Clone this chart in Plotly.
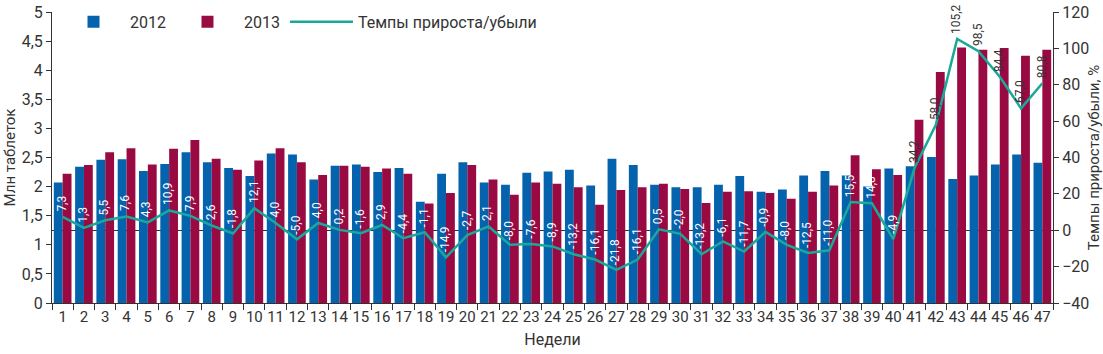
import plotly.graph_objects as go

weeks = [str(i) for i in range(1, 48)]
sales_2012 = [2.07, 2.34, 2.46, 2.47, 2.27, 2.39, 2.59, 2.42, 2.32, 2.18,
              2.57, 2.55, 2.12, 2.36, 2.38, 2.25, 2.32, 1.74, 2.22, 2.42,
              2.07, 2.03, 2.24, 2.26, 2.29, 2.02, 2.48, 2.37, 2.03, 1.99,
              1.99, 2.03, 2.18, 1.91, 1.95, 2.19, 2.27, 2.19, 2.00, 2.31,
              2.35, 2.51, 2.13, 2.19, 2.38, 2.55, 2.41]
sales_2013 = [2.22, 2.37, 2.59, 2.66, 2.38, 2.65, 2.80, 2.48, 2.29, 2.45,
              2.66, 2.42, 2.20, 2.36, 2.34, 2.31, 2.22, 1.71, 1.89, 2.37,
              2.12, 1.86, 2.07, 2.05, 1.99, 1.69, 1.94, 1.99, 2.05, 1.96,
              1.72, 1.91, 1.92, 1.89, 1.79, 1.91, 2.02, 2.54, 2.30, 2.20,
              3.15, 3.97, 4.39, 4.35, 4.38, 4.25, 4.35]
growth = [7.3, 1.3, 5.5, 7.6, 4.3, 10.9, 7.9, 2.6, -1.8, 12.1,
          4.0, -5.0, 4.0, 0.2, -1.6, 2.9, -4.4, -1.1, -14.9, -2.7,
          2.1, -8.0, -7.6, -8.9, -13.2, -16.1, -21.8, -16.1, 0.5, -2.0,
          -13.2, -6.1, -11.7, -0.9, -8.0, -12.5, -11.0, 15.5, 14.8, -4.9,
          34.2, 58.0, 105.2, 98.5, 84.4, 67.0, 80.8]
left_ticks = [0, 0.5, 1, 1.5, 2, 2.5, 3, 3.5, 4, 4.5, 5]
left_tick_text = ["0", "0,5", "1", "1,5", "2", "2,5", "3", "3,5", "4", "4,5", "5"]
right_ticks = [-40, -20, 0, 20, 40, 60, 80, 100, 120]

BLUE = "#0563AE"
RED = "#990A43"
TEAL = "#1AA89A"
TEXT = "#333333"
FONT = "Roboto"

fig = go.Figure()
fig.add_trace(go.Bar(x=weeks, y=sales_2012, name="2012", marker=dict(color=BLUE, line=dict(width=0))))
fig.add_trace(go.Bar(x=weeks, y=sales_2013, name="2013", marker=dict(color=RED, line=dict(width=0))))
fig.add_trace(go.Scatter(x=weeks, y=growth, name="Темпы прироста/убыли", yaxis="y2",
                         mode="lines", line=dict(color=TEAL, width=2.5)))

annotations = []
for i, g in enumerate(growth):
    annotations.append(dict(
        x=i, y=g, xref="x", yref="y2", text=f"{g:.1f}".replace(".", ","),
        textangle=-90, showarrow=False, xanchor="center", yanchor="bottom",
        yshift=3, xshift=-1,
        font=dict(family=FONT, size=12, color="white" if i < 40 else TEXT)))

fig.update_layout(
    width=1103, height=354,
    margin=dict(l=52, r=50, t=12, b=51, autoexpand=False),
    paper_bgcolor="white", plot_bgcolor="white",
    barmode="group", bargap=0.17, bargroupgap=0,
    font=dict(family=FONT, size=16, color=TEXT),
    showlegend=True,
    legend=dict(orientation="h", x=0.005, y=1.025, xanchor="left", yanchor="top",
                font=dict(family=FONT, size=16, color=TEXT), bgcolor="rgba(0,0,0,0)",
                itemwidth=63, traceorder="normal"),
    xaxis=dict(type="category", showline=True, linecolor=TEXT, linewidth=1,
               ticks="outside", tickson="boundaries", ticklen=6, tickcolor=TEXT,
               tickangle=0, automargin=False,
               tickfont=dict(family=FONT, size=15, color=TEXT),
               title=dict(text="Недели", font=dict(family=FONT, size=16, color=TEXT), standoff=8),
               showgrid=False),
    yaxis=dict(range=[0, 5], tickvals=left_ticks, ticktext=left_tick_text,
               showline=True, linecolor=TEXT, linewidth=1, ticks="outside", ticklen=5,
               tickcolor=TEXT, showgrid=False, zeroline=False, automargin=False,
               tickfont=dict(family=FONT, size=16, color=TEXT),
               title=dict(text="Млн таблеток", font=dict(family=FONT, size=15, color=TEXT), standoff=2)),
    yaxis2=dict(range=[-40, 120], tickvals=right_ticks, overlaying="y", side="right",
                showline=True, linecolor=TEXT, linewidth=1, ticks="outside", ticklen=5,
                tickcolor=TEXT, showgrid=False, zeroline=True, zerolinecolor=TEXT,
                zerolinewidth=1, automargin=False,
                tickfont=dict(family=FONT, size=16, color=TEXT),
                title=dict(text="Темпы прироста/убыли, %", font=dict(family=FONT, size=15, color=TEXT), standoff=6)),
    annotations=annotations,
)

fig.write_html("out.html")
